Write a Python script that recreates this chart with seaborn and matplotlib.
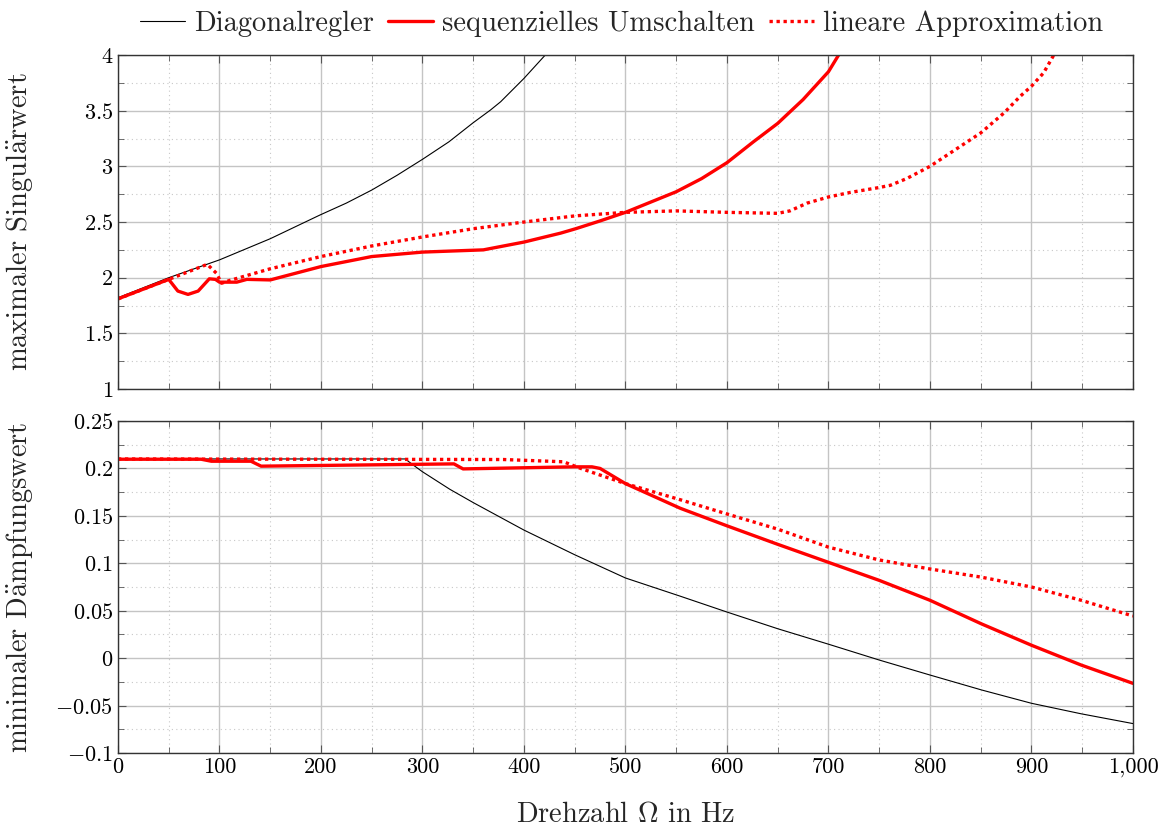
import numpy as np
import pandas as pd
import matplotlib
matplotlib.use("Agg")
import matplotlib.pyplot as plt
import seaborn as sns
from matplotlib.ticker import MultipleLocator, FixedLocator, FuncFormatter

# ---------------- data ----------------
# upper panel: maximaler Singulaerwert
diag_top_hz = [0, 50, 100, 150, 199, 225, 250, 275, 300, 326, 350, 367, 377, 400, 421]
diag_top_val = [1.82, 2.0, 2.16, 2.35, 2.563, 2.67, 2.787, 2.92, 3.063, 3.22, 3.392,
                3.506, 3.58, 3.79, 4.0]

seq_top_hz = [0, 50, 59, 69, 79, 90, 96, 100, 117, 127, 150, 200, 250, 300, 360,
              400, 436, 451, 475, 500, 550, 575, 600, 626, 650, 675, 700, 710]
seq_top_val = [1.81, 1.985, 1.88, 1.85, 1.88, 1.99, 1.985, 1.96, 1.96, 1.985, 1.98,
               2.10, 2.19, 2.23, 2.25, 2.32, 2.40, 2.44, 2.51, 2.587, 2.772, 2.89,
               3.033, 3.22, 3.386, 3.60, 3.85, 4.0]

lin_top_hz = [0, 50, 88, 97, 102, 110, 150, 200, 250, 300, 350, 400, 450, 500, 550,
              600, 650, 662, 679, 700, 721, 750, 761, 777, 800, 825, 850, 873, 889,
              900, 912, 922]
lin_top_val = [1.81, 1.985, 2.12, 2.04, 1.95, 1.975, 2.08, 2.19, 2.285, 2.366, 2.44,
               2.50, 2.555, 2.587, 2.60, 2.587, 2.578, 2.60, 2.67, 2.725, 2.765, 2.81,
               2.83, 2.89, 3.0, 3.15, 3.30, 3.48, 3.63, 3.72, 3.84, 4.0]

# lower panel: minimaler Daempfungswert
diag_bot_hz = [0, 283, 291, 300, 327, 350, 400, 450, 500, 554, 600, 650, 700, 750,
               800, 851, 900, 949, 1000]
diag_bot_val = [0.2100, 0.2100, 0.2035, 0.1965, 0.178, 0.164, 0.135, 0.109, 0.0845,
                0.0653, 0.0486, 0.031, 0.0147, -0.002, -0.0178, -0.0336, -0.0476,
                -0.0587, -0.069]

seq_bot_hz = [0, 82, 92, 131, 141, 331, 340, 449, 467, 475, 500, 554, 600, 650, 700,
              750, 800, 851, 900, 949, 1000]
seq_bot_val = [0.2097, 0.2097, 0.2076, 0.2076, 0.2024, 0.2048, 0.1995, 0.2017, 0.2017,
               0.200, 0.184, 0.158, 0.1395, 0.12, 0.101, 0.082, 0.061, 0.036, 0.0136,
               -0.0073, -0.0266]

lin_bot_hz = [0, 380, 439, 456, 475, 500, 554, 600, 650, 700, 750, 800, 851, 900,
              949, 1000]
lin_bot_val = [0.2100, 0.2094, 0.207, 0.200, 0.193, 0.184, 0.167, 0.152, 0.136,
               0.117, 0.1035, 0.094, 0.0853, 0.075, 0.061, 0.0444]

series_names = ["Diagonalregler", "sequenzielles Umschalten", "lineare Approximation"]
x_ticks = [0, 100, 200, 300, 400, 500, 600, 700, 800, 900, 1000]
x_tick_labels = ["0", "100", "200", "300", "400", "500", "600", "700", "800", "900", "1,000"]

# ---------------- style ----------------
sns.set_theme(style="white")
plt.rcParams["font.family"] = ["cmr10", "DejaVu Serif"]
plt.rcParams["mathtext.fontset"] = "cm"
plt.rcParams["axes.unicode_minus"] = False
FS = 16
LFS = 20.5

fig = plt.figure(figsize=(11.68, 8.26), dpi=100)
ax1 = fig.add_axes([0.101, 0.529, 0.869, 0.4044])
ax2 = fig.add_axes([0.101, 0.0884, 0.869, 0.4019])

styles = [
    dict(color="black", linewidth=0.8, linestyle="-"),
    dict(color="#ff0000", linewidth=2.4, linestyle="-"),
    dict(color="#ff0000", linewidth=2.4, linestyle=(0, (1.0, 1.1))),
]

top_sets = [(diag_top_hz, diag_top_val), (seq_top_hz, seq_top_val), (lin_top_hz, lin_top_val)]
bot_sets = [(diag_bot_hz, diag_bot_val), (seq_bot_hz, seq_bot_val), (lin_bot_hz, lin_bot_val)]

for (hz, val), name, st in zip(top_sets, series_names, styles):
    df = pd.DataFrame({"hz": hz, "val": val})
    sns.lineplot(data=df, x="hz", y="val", ax=ax1, sort=False, label=name, **st)
for (hz, val), name, st in zip(bot_sets, series_names, styles):
    df = pd.DataFrame({"hz": hz, "val": val})
    sns.lineplot(data=df, x="hz", y="val", ax=ax2, sort=False, **st)

handles, labels = ax1.get_legend_handles_labels()
ax1.get_legend().remove()
if ax2.get_legend() is not None:
    ax2.get_legend().remove()

def fmt_num(v, pos=None):
    s = ("%.2f" % v).rstrip("0").rstrip(".")
    if s in ("-0", "-0."):
        s = "0"
    return "$" + s + "$"

for ax in (ax1, ax2):
    ax.set_xlim(0, 1000)
    ax.xaxis.set_major_locator(FixedLocator(x_ticks))
    ax.xaxis.set_minor_locator(MultipleLocator(50))
    ax.grid(True, which="major", color="#c4c4c4", linewidth=1.0, linestyle="-")
    ax.grid(True, which="minor", color="#c8c8c8", linewidth=0.8, linestyle=(0, (1, 3)))
    ax.set_axisbelow(True)
    ax.tick_params(which="both", direction="in", top=True, right=True,
                   bottom=True, left=True, colors="#555555", labelcolor="black",
                   labelsize=FS)
    ax.tick_params(which="major", length=6, width=0.8)
    ax.tick_params(which="minor", length=4, width=0.6)
    for sp in ax.spines.values():
        sp.set_color("#333333")
        sp.set_linewidth(1.0)
    ax.set_xlabel("")
    ax.set_ylabel("")

ax1.set_ylim(1, 4)
ax1.yaxis.set_major_locator(MultipleLocator(0.5))
ax1.yaxis.set_minor_locator(MultipleLocator(0.25))
ax1.yaxis.set_major_formatter(FuncFormatter(fmt_num))
ax1.tick_params(axis="x", labelbottom=False)

ax2.set_ylim(-0.1, 0.25)
ax2.yaxis.set_major_locator(MultipleLocator(0.05))
ax2.yaxis.set_minor_locator(MultipleLocator(0.025))
ax2.yaxis.set_major_formatter(FuncFormatter(fmt_num))
ax2.set_xticklabels(x_tick_labels)

ax1.set_ylabel("maximaler Singul$\\ddot{\\mathrm{a}}$rwert", fontsize=LFS)
ax2.set_ylabel("minimaler D$\\ddot{\\mathrm{a}}$mpfungswert", fontsize=LFS)
for ax in (ax1, ax2):
    ax.yaxis.set_label_coords(-0.0966, 0.5)
    ax.yaxis.label.set_va("center")
ax2.set_xlabel("Drehzahl $\\Omega$ in Hz", fontsize=LFS)
ax2.xaxis.set_label_coords(0.5, -0.187)
ax2.xaxis.label.set_va("center")

fig.legend(handles, labels, loc="center", bbox_to_anchor=(0.532, 0.971), ncol=3,
           frameon=False, fontsize=LFS, handlelength=1.6, handletextpad=0.3,
           columnspacing=0.5)

fig.savefig("out.png", dpi=100)
